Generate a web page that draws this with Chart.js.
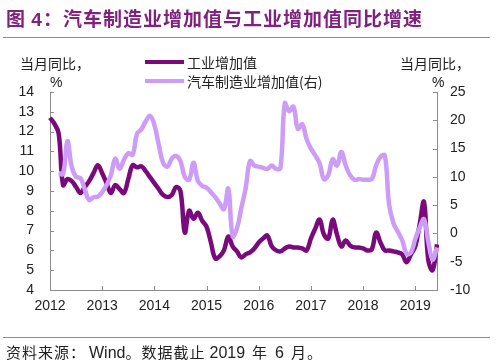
<!DOCTYPE html>
<html>
<head>
<meta charset="utf-8">
<script src="https://cdn.jsdelivr.net/npm/chart.js@4.4.0/dist/chart.umd.min.js"></script>
<style>
  body { margin: 0; background: #fff; }
  #wrap { position: relative; width: 500px; height: 363px; overflow: hidden; }
  #growthChart { position: absolute; left: 0; top: 0; }
  .title { position: absolute; left: 6px; top: 5px; font: bold 19px "Noto Sans CJK SC"; color: #80207f; letter-spacing: 1px; line-height: 26px; white-space: nowrap; }
  .rule { position: absolute; left: 3px; width: 487px; height: 1px; background: #8c8c8c; }
  .lbl { position: absolute; font: 14px "Noto Sans CJK SC"; line-height: 18px; color: #222; white-space: nowrap; }
  .num { font-family: "Liberation Sans", Arial, sans-serif; }
  .foot { position: absolute; left: 6px; top: 342px; font: 15px "Noto Sans CJK SC"; line-height: 20px; color: #222; white-space: nowrap; letter-spacing: 1px; }
  .foot .num { font-size: 16px; letter-spacing: 0; }
  .swatch { position: absolute; width: 39px; height: 4px; }
</style>
</head>
<body>
<div id="wrap">
  <canvas id="growthChart" width="500" height="363"></canvas>
  <div class="title">图 <span class="num">4</span>：汽车制造业增加值与工业增加值同比增速</div>
  <div class="rule" style="top:37px"></div>
  <div class="lbl" style="left:20px; top:54px">当月同比，</div>
  <div class="lbl num" style="left:50px; top:73px">%</div>
  <div class="lbl" style="left:400px; top:54px">当月同比，</div>
  <div class="lbl num" style="left:432px; top:73px">%</div>
  <div id="legend"></div>
  <div class="rule" style="top:337px"></div>
  <div class="foot">资料来源：<span class="num" style="margin-left:3px">Wind</span>。数据截止<span class="num" style="margin:0 7px 0 4px">2019</span>年<span class="num" style="margin:0 7px">6</span>月。</div>
</div>
<script>
// monthly YoY growth, Jan 2012 - Jun 2019
const years = ['2012', '2013', '2014', '2015', '2016', '2017', '2018', '2019'];

const series_names = ['工业增加值', '汽车制造业增加值(右)'];
const series_colors = ['#7a0a7c', '#cc9cf7'];

// left axis, %
const industrial_va = [
  12.7, 12.4, 11.9, 9.3, 9.6, 9.5, 9.2, 8.9, 9.2, 9.5, 9.9, 10.3,
  9.9, 9.4, 8.9, 9.3, 9.1, 8.9, 9.6, 10.3, 10.2, 10.25, 10.0, 9.7,
  9.4, 9.1, 8.8, 8.7, 8.8, 9.2, 9.0, 6.9, 8.0, 7.6, 7.9, 7.5,
  7.2, 6.4, 5.6, 5.7, 6.0, 6.7, 6.2, 5.95, 5.65, 5.8, 5.9, 6.1,
  6.4, 6.6, 6.75, 6.2, 6.0, 5.95, 6.1, 6.2, 6.15, 6.15, 6.1, 6.0,
  6.6, 7.1, 7.55, 6.8, 6.6, 7.55, 6.8, 6.2, 6.5, 6.25, 6.15, 6.15,
  6.1, 6.0, 6.05, 6.9, 6.4, 6.0, 6.0, 5.95, 5.9, 5.8, 5.4, 5.8,
  6.2, 7.3, 8.45, 5.5, 5.0, 6.3
];

// right axis, %
const auto_va = [
  null, null, 10.7, 10.5, 16.3, 11.8, 10.0, 9.8, 7.8, 5.9, 6.4, 6.5,
  7.3, 8.5, 10.3, 13.2, 11.4, 13.0, 14.2, 13.9, 17.6, 18.4, 19.8, 20.8,
  19.2, 15.7, 12.5, 11.8, 13.2, 13.7, 12.8, 10.0, 9.5, 12.5, 9.3, 8.4,
  8.1, 7.3, 6.4, 5.3, 4.3, 7.9, -0.5, 0.9, 4.5, 8.0, 12.8, 12.0,
  11.8, 11.6, 11.4, 12.0, 11.4, 11.6, 23.0, 21.6, 22.4, 18.5, 19.3, 16.7,
  15.0, 13.8, 12.4, 9.6, 10.3, 13.1, 12.0, 14.4, 12.0, 10.3, 9.5, 9.6,
  9.5, 9.5, 9.6, 12.0, 13.5, 13.8, 5.0, 1.8, 0.3, -1.2, -3.6, -3.4,
  -1.0, 1.0, 2.5, -1.5, -4.6, -2.5
];

const left_ticks = [4, 14, 1];
const right_ticks = [-10, 25, 5];

const month_labels = [];
years.forEach(y => {
  for (let m = 1; m <= 12; m++) month_labels.push(y + '-' + String(m).padStart(2, '0'));
});
month_labels.length = industrial_va.length;

// legend
const legendDiv = document.getElementById('legend');
series_names.forEach((name, i) => {
  const cy = 62 + i * 18.5;
  legendDiv.innerHTML +=
    `<div class="swatch" style="left:145px; top:${cy - 2}px; background:${series_colors[i]}"></div>` +
    `<div class="lbl" style="left:187px; top:${cy - 9}px">${name}</div>`;
});

const axis_grey = '#8c8c8c';
const tick_font = { family: '"Liberation Sans", Arial, sans-serif', size: 14 };

// small tick marks pointing into the plot, like the excel original
const inward_ticks = {
  id: 'inward_ticks',
  beforeDatasetsDraw(chart) {
    const { ctx, scales: { x, y, y1 } } = chart;
    ctx.save();
    ctx.strokeStyle = axis_grey;
    ctx.lineWidth = 1;
    ctx.beginPath();
    month_labels.forEach((l, i) => {
      if (l.endsWith('-01') && i > 0) {
        const px = Math.round(x.getPixelForValue(i)) + 0.5;
        ctx.moveTo(px, y.bottom);
        ctx.lineTo(px, y.bottom - 4);
      }
    });
    y.ticks.forEach(t => {
      const py = Math.round(y.getPixelForValue(t.value)) + 0.5;
      ctx.moveTo(x.left, py);
      ctx.lineTo(x.left + 4, py);
    });
    y1.ticks.forEach(t => {
      const py = Math.round(y1.getPixelForValue(t.value)) + 0.5;
      ctx.moveTo(x.right, py);
      ctx.lineTo(x.right - 4, py);
    });
    ctx.stroke();
    ctx.restore();
  }
};

const ctx = document.getElementById('growthChart').getContext('2d');

new Chart(ctx, {
  type: 'line',
  data: {
    labels: month_labels,
    datasets: [
      {
        label: series_names[1],
        data: auto_va,
        yAxisID: 'y1',
        borderColor: series_colors[1],
        borderWidth: 4.5,
        pointRadius: 0,
        tension: 0.4,
        borderJoinStyle: 'round',
        order: 0
      },
      {
        label: series_names[0],
        data: industrial_va,
        yAxisID: 'y',
        borderColor: series_colors[0],
        borderWidth: 4.5,
        pointRadius: 0,
        tension: 0.4,
        borderJoinStyle: 'round',
        order: 1
      }
    ]
  },
  options: {
    responsive: false,
    animation: false,
    devicePixelRatio: 1,
    layout: { padding: { top: 92, bottom: 43, left: 0, right: 0 } },
    plugins: {
      legend: { display: false },
      title: { display: false },
      tooltip: { enabled: false }
    },
    scales: {
      x: {
        type: 'category',
        grid: { display: false, drawTicks: false },
        border: { display: true, color: axis_grey, width: 1 },
        ticks: {
          autoSkip: false,
          maxRotation: 0,
          minRotation: 0,
          padding: 8,
          color: '#222',
          font: tick_font,
          callback: function (value) {
            const l = this.getLabelForValue(value);
            return l.endsWith('-01') ? l.slice(0, 4) : '';
          }
        },
        afterFit: scale => { scale.height = 30; }
      },
      y: {
        position: 'left',
        min: left_ticks[0],
        max: left_ticks[1],
        grid: { display: false, drawTicks: false },
        border: { display: true, color: axis_grey, width: 1 },
        ticks: { stepSize: left_ticks[2], padding: 16, color: '#222', font: tick_font },
        afterFit: scale => { scale.width = 50; }
      },
      y1: {
        position: 'right',
        min: right_ticks[0],
        max: right_ticks[1],
        grid: { display: false, drawTicks: false, drawOnChartArea: false },
        border: { display: true, color: axis_grey, width: 1 },
        ticks: { stepSize: right_ticks[2], padding: 13, color: '#222', font: tick_font },
        afterFit: scale => { scale.width = 63; }
      }
    }
  },
  plugins: [inward_ticks]
});
</script>
</body>
</html>
